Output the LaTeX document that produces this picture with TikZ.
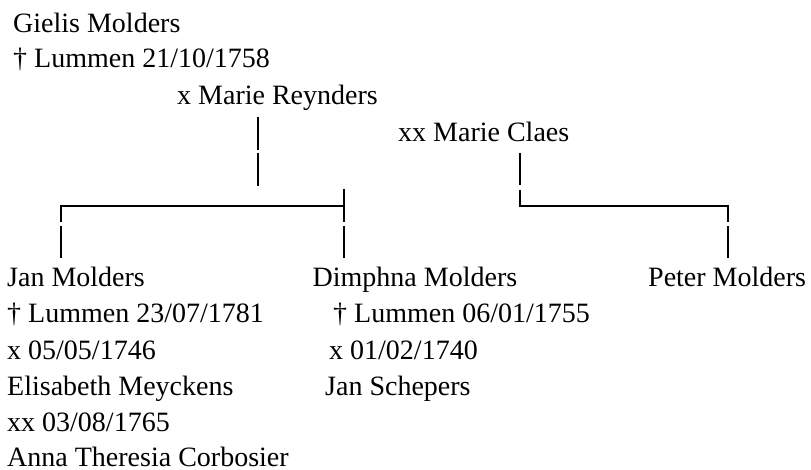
\documentclass[tikz,border=0pt]{standalone}
\usepackage{fontspec}
\setmainfont{Liberation Serif}
\begin{document}
\begin{tikzpicture}[x=1pt,y=-1pt,
  txt/.style={anchor=base west,inner sep=0pt,font=\fontsize{28}{34}\selectfont},
  conn/.style={line width=2pt},
  boldconn/.style={line width=2.6pt}]
\useasboundingbox (0,0) rectangle (811,470);
% parents
\node[txt] (gielis) at (13,33) {Gielis Molders};
\node[txt] (gielisd) at (13,68) {† Lummen 21/10/1758};
\node[txt] (wife1) at (177,105) {x Marie Reynders};
\node[txt] (wife2) at (398,141.5) {xx Marie Claes};
% children
\node[txt] (jan) at (7,287) {Jan Molders};
\node[txt] (jand) at (7,323) {† Lummen 23/07/1781};
\node[txt] (janm1) at (7,359) {x 05/05/1746};
\node[txt] (jans1) at (7,395.5) {Elisabeth Meyckens};
\node[txt] (janm2) at (7,431.5) {xx 03/08/1765};
\node[txt] (jans2) at (7,466) {Anna Theresia Corbosier};
\node[txt] (dim) at (312.5,287) {Dimphna Molders};
\node[txt] (dimd) at (333,323) {† Lummen 06/01/1755};
\node[txt] (dimm) at (329,359) {x 01/02/1740};
\node[txt] (dims) at (325,395.5) {Jan Schepers};
\node[txt] (peter) at (648,287) {Peter Molders};
% junction coordinates
\coordinate (a1) at (258,117);
\coordinate (a2) at (258,150);
\coordinate (a3) at (258,153);
\coordinate (a4) at (258,186);
\coordinate (hl) at (60.5,206.5);
\coordinate (hr) at (344,206.5);
\coordinate (rt) at (344,189);
\coordinate (l1) at (60.5,222);
\coordinate (l2) at (60.5,226);
\coordinate (l3) at (60.5,258);
\coordinate (r1) at (344,222);
\coordinate (r2) at (344,226);
\coordinate (r3) at (344,258);
\coordinate (c1) at (520,153);
\coordinate (c2) at (520,185);
\coordinate (c3) at (520,190);
\coordinate (ch) at (520,206.5);
\coordinate (pr) at (728,206.5);
\coordinate (p1) at (728,222);
\coordinate (p2) at (728,226.5);
\coordinate (p3) at (728,258);
% connectors
\draw[boldconn] (a1) -- (a2);
\draw[conn] (a3) -- (a4);
\draw[conn] (l1) -- (hl) -- (hr);
\draw[conn] (rt) -- (r1);
\draw[conn] (l2) -- (l3);
\draw[conn] (r2) -- (r3);
\draw[conn] (c1) -- (c2);
\draw[conn] (c3) -- (ch) -- (pr) -- (p1);
\draw[conn] (p2) -- (p3);
\end{tikzpicture}
\end{document}
